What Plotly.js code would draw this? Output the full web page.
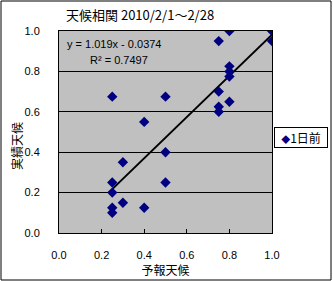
<!DOCTYPE html>
<html><head><meta charset="utf-8">
<script src="https://cdn.plot.ly/plotly-3.0.1.min.js"></script>
<style>body{margin:0;padding:0;background:#fff}#chart{width:333px;height:281px}</style>
</head><body><div id="chart"></div>
<script>
const forecast = [1.0, 1.0, 0.8, 0.75, 0.8, 0.8, 0.8, 0.75, 0.8, 0.75, 0.75, 0.25, 0.5, 0.4, 0.5, 0.3, 0.25, 0.5, 0.25, 0.3, 0.25, 0.4, 0.25];
const actual   = [1.0, 0.95, 1.0, 0.95, 0.825, 0.8, 0.775, 0.7, 0.65, 0.625, 0.6, 0.675, 0.675, 0.55, 0.4, 0.35, 0.25, 0.25, 0.2, 0.15, 0.125, 0.125, 0.1];
const seriesName = '1日前';
const slope = 1.019;
const intercept = -0.0374;
const r2 = 0.7497;
const tickVals = [0, 0.2, 0.4, 0.6, 0.8, 1.0];
const tickText = ['0.0', '0.2', '0.4', '0.6', '0.8', '1.0'];
const xTitle = '予報天候';
const yTitle = '実績天候';

const xmin = Math.min(...forecast), xmax = Math.max(...forecast);
const font = 'Liberation Sans, Arial, Noto Sans CJK JP, sans-serif';
const jfont = 'Noto Sans CJK JP, sans-serif';

const traces = [
  {x: [xmin, xmax], y: [slope*xmin+intercept, slope*xmax+intercept], mode: 'lines',
   line: {color: '#000', width: 2}, showlegend: false, hoverinfo: 'skip'},
  {x: forecast, y: actual, mode: 'markers', name: seriesName, showlegend: false,
   marker: {symbol: 'diamond', size: 8, color: '#000080'}}
];

const layout = {
  width: 333, height: 281,
  margin: {l: 59, r: 61, t: 31, b: 48, autoexpand: false},
  paper_bgcolor: '#fff', plot_bgcolor: '#c0c0c0',
  font: {family: font, size: 11, color: '#000'},
  title: {text: '天候相関 2010/2/1～2/28', font: {family: jfont, size: 13, color: '#000'},
          x: 66/333, xanchor: 'left', y: 1-15/281, yanchor: 'middle'},
  xaxis: {range: [0, 1], tickvals: tickVals, ticktext: tickText, showgrid: false, zeroline: false,
          showline: true, linecolor: '#000', linewidth: 1, mirror: true,
          ticks: 'inside', ticklen: 4, tickcolor: '#000', ticklabelstandoff: 12,
          tickfont: {family: font, size: 11, color: '#000'},
          title: {text: xTitle, font: {family: jfont, size: 12, color: '#000'}, standoff: 3}},
  yaxis: {range: [0, 1], tickvals: tickVals, ticktext: tickText, showgrid: true, gridcolor: '#000', gridwidth: 1,
          zeroline: false, showline: true, linecolor: '#000', linewidth: 1, mirror: true,
          ticks: '', ticklabelstandoff: 16, tickfont: {family: font, size: 11, color: '#000'}},
  annotations: [
    {xref: 'paper', yref: 'paper', x: (16-59)/213, y: (233-146)/202, xanchor: 'center', yanchor: 'middle',
     showarrow: false, textangle: -90, text: yTitle, font: {family: jfont, size: 12, color: '#000'}},
    {xref: 'paper', yref: 'paper', x: 0.03, y: 0.935, xanchor: 'left', yanchor: 'middle', showarrow: false,
     text: 'y = ' + slope + 'x - ' + Math.abs(intercept), font: {family: font, size: 11, color: '#000'}},
    {xref: 'paper', yref: 'paper', x: 0.135, y: 0.855, xanchor: 'left', yanchor: 'middle', showarrow: false,
     text: 'R² = ' + r2, font: {family: font, size: 11, color: '#000'}},
    {xref: 'paper', yref: 'paper', x: (274-59)/213, y: (233-127)/202, xanchor: 'left', yanchor: 'top', showarrow: false,
     text: '<span style="color:#000080;font-size:9px">◆</span>' + seriesName,
     font: {family: jfont, size: 12, color: '#000'}, bgcolor: '#fff', bordercolor: '#000', borderwidth: 1,
     borderpad: 1, width: 50, align: 'center'}
  ],
  shapes: [
    {type: 'rect', xref: 'paper', yref: 'paper', x0: (1-59)/213, x1: (331-59)/213, y0: (233-280)/202, y1: (233-1)/202,
     line: {color: '#000', width: 1}, fillcolor: 'rgba(0,0,0,0)'}
  ]
};
Plotly.newPlot('chart', traces, layout, {displayModeBar: false, staticPlot: true});
</script></body></html>
